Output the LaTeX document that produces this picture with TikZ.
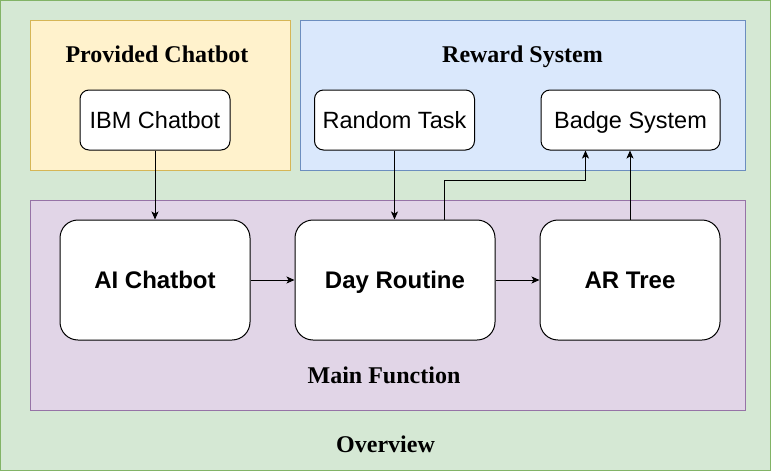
\documentclass[tikz,border=0pt]{standalone}
\usepackage{fontspec}
\setmainfont{Liberation Sans}
\newfontfamily\labelfont{Liberation Serif}
\usetikzlibrary{arrows.meta}
\definecolor{gfill}{HTML}{D5E8D4}
\definecolor{gline}{HTML}{82B366}
\definecolor{yfill}{HTML}{FFF2CC}
\definecolor{yline}{HTML}{D6B656}
\definecolor{bfill}{HTML}{DAE8FC}
\definecolor{bline}{HTML}{6C8EBF}
\definecolor{pfill}{HTML}{E1D5E7}
\definecolor{pline}{HTML}{9673A6}
\tikzset{
  group/.style={line width=1pt},
  smallbox/.style={draw=black, fill=white, line width=1pt, rounded corners=9pt,
    minimum height=60pt, inner sep=0pt, text height=21.6pt, text depth=5pt,
    font=\fontsize{23.5}{28}\selectfont},
  bigbox/.style={draw=black, fill=white, line width=1pt, rounded corners=18pt,
    minimum height=120pt, inner sep=0pt, text height=21.6pt, text depth=5pt,
    font=\fontsize{24}{29}\selectfont\bfseries},
  grouplabel/.style={font=\labelfont\fontsize{24}{28}\selectfont\bfseries, inner sep=0pt,
    text height=16pt, text depth=0pt},
  arr/.style={draw=black, line width=1pt, -{Stealth[length=8pt,width=7pt,inset=2pt]}}
}
\begin{document}
\begin{tikzpicture}[x=1pt,y=-1pt]
\useasboundingbox (0,0) rectangle (771,471);
\draw[group, fill=gfill, draw=gline] (0.5,0.5) rectangle (770,470);
\draw[group, fill=yfill, draw=yline] (30,20) rectangle (290,170);
\draw[group, fill=bfill, draw=bline] (300,20) rectangle (745,170);
\draw[group, fill=pfill, draw=pline] (30,200) rectangle (745,410);

\node[grouplabel] (lprov) at (157,54.7) {Provided Chatbot};
\node[grouplabel] (lrew) at (522.5,54.7) {Reward System};
\node[grouplabel] (lmain) at (384,375) {Main Function};
\node[grouplabel] (lover) at (385.5,444.5) {Overview};

\node[smallbox, minimum width=150pt] (ibm) at (155,120) {IBM Chatbot};
\node[smallbox, minimum width=160pt] (rt) at (394.5,120) {Random Task};
\node[smallbox, minimum width=179pt] (bs) at (630.5,120) {Badge System};

\node[bigbox, minimum width=190pt] (ai) at (155,280) {AI Chatbot};
\node[bigbox, minimum width=200pt] (dr) at (395,280) {Day Routine};
\node[bigbox, minimum width=180pt] (ar) at (630,280) {AR Tree};

\draw[arr] (ibm.south) -- (ai.north);
\draw[arr] (rt.south) -- (rt.south |- dr.north);
\draw[arr] (ai.east) -- (dr.west);
\draw[arr] (dr.east) -- (ar.west);
\draw[arr] ([xshift=49pt]dr.north) -- ++(0,-39.5) -| ([xshift=-45pt]bs.south);
\draw[arr] (ar.north) -- (ar.north |- bs.south);
\end{tikzpicture}
\end{document}
